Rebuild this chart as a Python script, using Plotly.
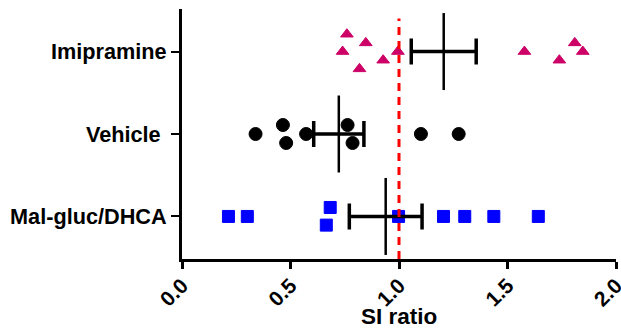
import numpy as np
import plotly.graph_objects as go

# ---- data ----
categories = ["Mal-gluc/DHCA", "Vehicle\u00a0", "Imipramine"]
cat_pos = [0, 1, 2]

imipramine = [0.760, 0.847, 0.740, 0.995, 0.927, 0.818, 1.578, 1.810, 1.847, 1.739]
imipramine_jitter = [0.21, 0.105, 0.0, 0.0, -0.105, -0.21, 0.0, 0.105, 0.0, -0.105]

vehicle = [0.339, 0.465, 0.480, 0.572, 0.763, 0.786, 1.101, 1.275]
vehicle_jitter = [0.0, 0.109, -0.109, 0.0, 0.109, -0.109, 0.0, 0.0]

malgluc = [0.214, 0.301, 0.683, 0.665, 0.998, 1.205, 1.303, 1.437, 1.642]
malgluc_jitter = [0.0, 0.0, 0.109, -0.105, 0.0, 0.0, 0.0, 0.0, 0.0]

x_ticks = [0.0, 0.5, 1.0, 1.5, 2.0]
x_ticktext = ["0.0", "0.5", "1.0", "1.5", "2.0"]
x_title = "SI ratio"
reference_ratio = 1.0

FONT = "Liberation Sans, Arial, sans-serif"

groups = [
    (malgluc, malgluc_jitter, 0, "square", "#0000FF", 12),
    (vehicle, vehicle_jitter, 1, "circle", "#000000", 13),
    (imipramine, imipramine_jitter, 2, "triangle-up", "#CC0066", 11),
]

fig = go.Figure()

for vals, jit, pos, sym, col, sz in groups:
    fig.add_trace(go.Scatter(
        x=vals, y=[pos + j for j in jit], mode="markers",
        marker=dict(symbol=sym, color=col, size=sz, line=dict(width=1, color=col)),
        showlegend=False, hoverinfo="x"))

for vals, jit, pos, sym, col, sz in groups:
    arr = np.array(vals)
    mean = arr.mean()
    sem = arr.std(ddof=1) / np.sqrt(len(arr))
    fig.add_trace(go.Scatter(
        x=[mean], y=[pos], mode="markers",
        marker=dict(symbol="line-ns", size=55, line=dict(width=2.5, color="#000000")),
        error_x=dict(type="data", array=[sem], visible=True, color="#000000",
                     thickness=3.5, width=13),
        showlegend=False, hoverinfo="x"))

fig.add_shape(type="line", x0=reference_ratio, x1=reference_ratio, y0=-0.516, y1=2.40,
              xref="x", yref="y", layer="above",
              line=dict(color="#FF0000", width=3, dash="8px,6px"))

fig.add_annotation(text=x_title, xref="paper", yref="paper", x=0.5, y=-0.228,
                   xanchor="center", yanchor="middle", showarrow=False,
                   font=dict(size=22.5, family=FONT, weight="bold", color="#000"))

fig.update_layout(
    width=621, height=331,
    margin=dict(l=182, r=5, t=9, b=72),
    plot_bgcolor="white", paper_bgcolor="white",
    font=dict(family=FONT, color="#000000"),
    xaxis=dict(range=[0, 2], tickvals=x_ticks, ticktext=x_ticktext,
               tickangle=-45, ticks="outside", ticklen=7, tickwidth=3, tickcolor="#000",
               showline=True, linewidth=3, linecolor="#000", showgrid=False, zeroline=False,
               automargin=False, ticklabeloverflow="allow", ticklabelstandoff=-4,
               tickfont=dict(size=21, family=FONT, weight="bold")),
    yaxis=dict(range=[-0.516, 2.516], tickvals=cat_pos, ticktext=categories,
               ticks="outside", ticklen=8, tickwidth=2, tickcolor="#000",
               showline=True, linewidth=3, linecolor="#000", showgrid=False, zeroline=False,
               automargin=False,
               tickfont=dict(size=21.7, family=FONT, weight="bold")),
)

fig.write_html("out.html", config={"displayModeBar": False},
               post_script="document.body.style.margin='0';document.body.style.overflow='hidden';")
